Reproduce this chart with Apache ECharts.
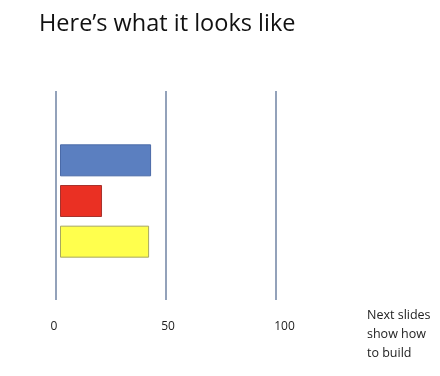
<!DOCTYPE html>
<html>
<head>
<meta charset="utf-8">
<script src="https://cdn.jsdelivr.net/npm/echarts@6/dist/echarts.min.js"></script>
<style>
html,body{margin:0;padding:0;background:#fff;}
#chart{width:440px;height:376px;}
</style>
</head>
<body>
<div id="chart"></div>
<script>
var categories = ['Blue', 'Red', 'Yellow'];
var values = [41.4, 19.1, 40.5];
var barColors = ['#5b7fc0', '#ea3023', '#ffff4d'];
var barBorders = ['#4a6aa8', '#a8322c', '#a8a860'];
var tickValues = [0, 50, 100];

var chart = echarts.init(document.getElementById('chart'));
chart.setOption({
  animation: false,
  backgroundColor: '#ffffff',
  title: {
    text: 'Here\u2019s what it looks like',
    left: 34, top: 7,
    textStyle: { fontFamily: 'Open Sans', fontSize: 23.5, fontWeight: 'normal', color: '#111' }
  },
  graphic: [{
    type: 'text', left: 367, top: 306,
    style: {
      text: 'Next slides\nshow how\nto build',
      font: '12.5px "Open Sans"', fill: '#222', lineHeight: 19
    }
  }],
  grid: [
    { left: 56, right: 164, top: 91, height: 209 },
    { left: 60, right: 160, top: 140, height: 122 }
  ],
  xAxis: [
    {
      gridIndex: 0, type: 'value', min: tickValues[0], max: tickValues[tickValues.length - 1], interval: 50,
      axisLine: { show: false }, axisTick: { show: false },
      splitLine: { show: true, lineStyle: { color: '#6f83a3', width: 1.5 } },
      axisLabel: {
        margin: 21, fontFamily: 'Open Sans', fontSize: 12, color: '#222',
        formatter: function (v) {
          var k = v === 0 ? 'a' : (v === 50 ? 'b' : 'c');
          return '{' + k + '|' + v + '}';
        },
        rich: {
          a: { padding: [0, 4, 0, 0], fontFamily: 'Open Sans', fontSize: 12, color: '#222' },
          b: { padding: [0, 0, 0, 4], fontFamily: 'Open Sans', fontSize: 12, color: '#222' },
          c: { padding: [0, 0, 0, 17], fontFamily: 'Open Sans', fontSize: 12, color: '#222' }
        }
      }
    },
    {
      gridIndex: 1, type: 'value', min: 0, max: 100, show: false, splitLine: { show: false }
    }
  ],
  yAxis: [
    { gridIndex: 0, type: 'category', data: categories, show: false },
    { gridIndex: 1, type: 'category', data: categories, inverse: true, show: false }
  ],
  series: [{
    type: 'bar', xAxisIndex: 1, yAxisIndex: 1, barWidth: 32,
    data: values.map(function (v, i) {
      return { value: v, itemStyle: { color: barColors[i], borderColor: barBorders[i], borderWidth: 1 } };
    })
  }]
});
</script>
</body>
</html>
